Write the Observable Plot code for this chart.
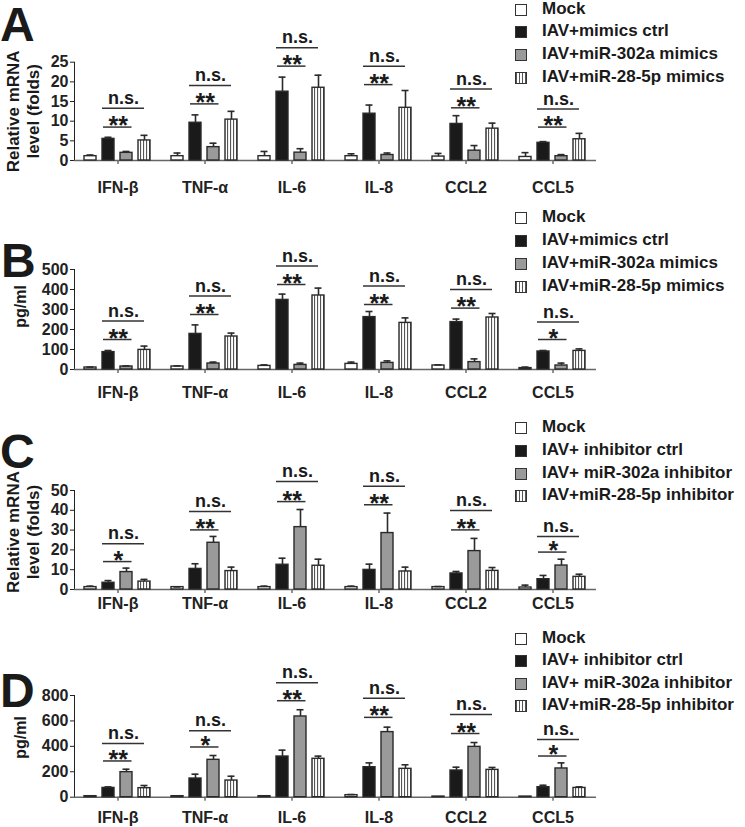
<!DOCTYPE html>
<html><head><meta charset="utf-8">
<script src="https://cdn.jsdelivr.net/npm/d3@7"></script>
<script src="https://cdn.jsdelivr.net/npm/@observablehq/plot@0.6"></script>
<style>
body{margin:0;background:#fff;}
#fig{position:relative;width:745px;height:827px;overflow:hidden;font-family:"Liberation Sans",Arial,sans-serif;font-weight:bold;color:#1a1a1a;}
.panel{position:absolute;left:0;}
.letter{position:absolute;font-size:48px;line-height:48px;}
.legend{position:absolute;left:515px;font-size:17px;z-index:2;}
.legend .txt{position:absolute;left:27px;white-space:nowrap;line-height:20px;}
.legend .sw{position:absolute;left:0;width:10px;height:10px;border:1.2px solid #333;box-sizing:content-box;}
</style>
</head><body>
<div id="fig"></div>
<svg width="0" height="0" style="position:absolute"><defs>
<pattern id="stripes" patternUnits="userSpaceOnUse" width="3" height="10"><rect width="3" height="10" fill="#fff"/><rect x="0" width="1.1" height="10" fill="#555"/></pattern>
</defs></svg>
<script>
// ---- categories ----
const genes = ["IFN-β", "TNF-α", "IL-6", "IL-8", "CCL2", "CCL5"];
const conds = ["Mock", "Ctrl", "miR-302a", "miR-28-5p"];
const condFills = ["#ffffff", "#1a1a1a", "#9a9a9a", "url(#stripes)"];
const legendMimics = ["Mock", "IAV+mimics ctrl", "IAV+miR-302a mimics", "IAV+miR-28-5p mimics"];
const legendInhib = ["Mock", "IAV+ inhibitor ctrl", "IAV+ miR-302a inhibitor", "IAV+miR-28-5p inhibitor"];

// ---- Panel A: Relative mRNA (mimics) ----
const aMock = [1.1, 1.1, 1.1, 1.1, 1.0, 0.9];
const aMockErr = [0.3, 0.8, 1.2, 0.6, 0.8, 1.1];
const aCtrl = [5.5, 9.6, 17.5, 11.9, 9.3, 4.5];
const aCtrlErr = [0.4, 2.0, 3.7, 2.2, 2.1, 0.3];
const a302 = [1.95, 3.4, 2.0, 1.4, 2.5, 1.1];
const a302Err = [0.35, 1.0, 1.0, 0.5, 1.3, 0.4];
const a28 = [5.1, 10.4, 18.5, 13.4, 8.1, 5.4];
const a28Err = [1.3, 2.1, 3.2, 4.4, 1.4, 1.5];
const aStar = ["**", "**", "**", "**", "**", "**"];
const aStarY = [8.5, 14.4, 24, 19.3, 13.4, 8.5];
const aNsY = [13.3, 19.1, 28.7, 24, 18.2, 13.1];
const aTicks = [0, 5, 10, 15, 20, 25];

// ---- Panel B: pg/ml (mimics) ----
const bMock = [10, 15, 18, 28, 20, 7];
const bMockErr = [2, 3, 5, 9, 3, 5];
const bCtrl = [87, 178, 348, 262, 237, 90];
const bCtrlErr = [8, 45, 29, 28, 15, 5];
const b302 = [15, 30, 23, 33, 37, 20];
const b302Err = [3, 7, 9, 10, 16, 12];
const b28 = [98, 165, 370, 233, 260, 93];
const b28Err = [19, 17, 37, 25, 20, 10];
const bStar = ["**", "**", "**", "**", "**", "*"];
const bStarY = [150, 275, 425, 325, 307, 150];
const bNsY = [242, 367, 517, 417, 400, 237];
const bTicks = [0, 100, 200, 300, 400, 500];

// ---- Panel C: Relative mRNA (inhibitor) ----
const cMock = [1.2, 1.2, 1.2, 1.2, 1.2, 1.0];
const cMockErr = [0.5, 0.1, 0.5, 0.5, 0.3, 1.2];
const cCtrl = [3.4, 10.4, 12.5, 9.9, 8.1, 5.2];
const cCtrlErr = [1.1, 2.6, 3.3, 2.9, 1.0, 1.9];
const c302 = [8.8, 23.6, 31.5, 28.5, 19.4, 12.1];
const c302Err = [2.0, 3.2, 8.9, 10.1, 6.4, 3.2];
const c28 = [4.0, 9.3, 12.0, 9.1, 9.4, 6.4];
const c28Err = [1.1, 2.0, 3.3, 2.2, 1.7, 1.3];
const cStar = ["*", "**", "**", "**", "**", "*"];
const cStarY = [14.1, 30.1, 44.4, 42.8, 30.1, 18.9];
const cNsY = [23.1, 39.4, 54.5, 52.2, 39.9, 26.8];
const cTicks = [0, 10, 20, 30, 40, 50];

// ---- Panel D: pg/ml (inhibitor) ----
const dMock = [8, 8, 8, 16, 5, 5];
const dMockErr = [0, 0, 0, 5, 0, 0];
const dCtrl = [73, 147, 320, 236, 210, 79];
const dCtrlErr = [8, 34, 50, 34, 26, 15];
const d302 = [197, 294, 635, 512, 396, 226];
const d302Err = [23, 34, 53, 39, 34, 44];
const d28 = [71, 131, 302, 223, 215, 73];
const d28Err = [21, 34, 21, 32, 19, 8];
const dStar = ["**", "*", "**", "**", "**", "*"];
const dStarY = [285, 395, 759, 628, 501, 324];
const dNsY = [422, 522, 901, 778, 651, 454];
const dTicks = [0, 200, 400, 600, 800];

const FONT = '"Liberation Sans", Arial, sans-serif';
const fig = document.getElementById("fig");

function makePanel(o) {
  const rows = [];
  genes.forEach((g, i) => conds.forEach((c, j) => rows.push({gene: g, cond: c, v: o.vals[j][i], e: o.errs[j][i]})));
  const withErr = rows.filter(d => d.e > 0);
  const ann = genes.map((g, i) => ({gene: g, star: o.star[i], sy: o.starY[i], ny: o.nsY[i]}));
  const ymax = o.ticks[o.ticks.length - 1];
  const svg = Plot.plot({
    width: 745, height: o.height,
    marginLeft: 72, marginRight: 148, marginTop: o.marginTop, marginBottom: o.marginBottom,
    style: {fontFamily: FONT, fontWeight: "bold", fontSize: "16px", color: "#222", background: "transparent", overflow: "visible"},
    fx: {domain: genes, padding: 0, label: null, axis: "bottom", tickSize: 4, tickPadding: o.labelPad},
    x: {domain: conds, axis: null, paddingInner: 0.316, paddingOuter: 0.46},
    y: {domain: [0, ymax], ticks: o.ticks, tickSize: 4, tickPadding: 2, line: true, label: null},
    color: {type: "ordinal", domain: conds, range: condFills},
    marks: [
      Plot.ruleY([0], {stroke: "#666", strokeWidth: 1.5}),
      Plot.barY(rows, {fx: "gene", x: "cond", y: "v", fill: "cond", stroke: "#2a2a2a", strokeWidth: 1.4}),
      Plot.ruleX(withErr, {fx: "gene", x: "cond", y1: "v", y2: d => d.v + d.e, stroke: "#2a2a2a", strokeWidth: 1.6}),
      Plot.tickY(withErr, {fx: "gene", x: "cond", y: d => d.v + d.e, stroke: "#2a2a2a", strokeWidth: 1.6, insetLeft: 2.5, insetRight: 2.5}),
      Plot.ruleY(ann, {fx: "gene", y: "sy", x1: () => "Ctrl", x2: () => "miR-302a", stroke: "#333", strokeWidth: 1.5, insetLeft: 1, insetRight: 0.5}),
      Plot.ruleY(ann, {fx: "gene", y: "ny", x1: () => "Ctrl", x2: () => "miR-28-5p", stroke: "#333", strokeWidth: 1.5, insetLeft: 0, insetRight: 6}),
      Plot.text(ann, {fx: "gene", x: () => "Ctrl", y: "sy", text: "star", dx: 9.8, dy: 7, lineAnchor: "bottom", fontSize: 25, fill: "#1a1a1a"}),
      Plot.text(ann, {fx: "gene", x: () => "miR-302a", y: "ny", text: () => "n.s.", dx: -3, dy: -4.4, lineAnchor: "bottom", fontSize: 18, fill: "#1a1a1a"}),
      Plot.text([o.ylabel], {facet: "super", frameAnchor: "left", textAnchor: "middle", rotate: -90, dx: o.labelDx, dy: o.labelDy, fontSize: o.labelSize, lineHeight: 1.15, fill: "#1a1a1a"})
    ]
  });
  svg.classList.add("panel");
  svg.style.top = o.top + "px";
  fig.appendChild(svg);
}

function addLetter(ch, top, left) {
  const d = document.createElement("div");
  d.className = "letter"; d.textContent = ch;
  d.style.top = top + "px"; d.style.left = left + "px";
  fig.appendChild(d);
}

function addLegend(labels, top, step) {
  const box = document.createElement("div");
  box.className = "legend"; box.style.top = top + "px";
  labels.forEach((lab, i) => {
    const sw = document.createElement("div");
    sw.className = "sw";
    sw.style.top = (i * step - 5) + "px";
    const f = condFills[i];
    if (f.startsWith("url")) sw.style.background = "repeating-linear-gradient(90deg,#555 0 1px,#fff 1px 3px)";
    else sw.style.background = f;
    const t = document.createElement("div");
    t.className = "txt"; t.textContent = lab;
    t.style.top = (i * step - 10) + "px";
    box.appendChild(sw); box.appendChild(t);
  });
  fig.appendChild(box);
}

makePanel({vals: [aMock, aCtrl, a302, a28], errs: [aMockErr, aCtrlErr, a302Err, a28Err], star: aStar, starY: aStarY, nsY: aNsY, ticks: aTicks,
  top: 0, height: 210, marginTop: 61.7, marginBottom: 50, labelPad: 17, ylabel: "Relative mRNA\nlevel (folds)", labelDx: -52, labelDy: 0, labelSize: 17});
makePanel({vals: [bMock, bCtrl, b302, b28], errs: [bMockErr, bCtrlErr, b302Err, b28Err], star: bStar, starY: bStarY, nsY: bNsY, ticks: bTicks,
  top: 200, height: 210, marginTop: 69, marginBottom: 41, labelPad: 13, ylabel: "pg/ml", labelDx: -54, labelDy: -13, labelSize: 16});
makePanel({vals: [cMock, cCtrl, c302, c28], errs: [cMockErr, cCtrlErr, c302Err, c28Err], star: cStar, starY: cStarY, nsY: cNsY, ticks: cTicks,
  top: 410, height: 210, marginTop: 80, marginBottom: 31, labelPad: 4, ylabel: "Relative mRNA\nlevel (folds)", labelDx: -52, labelDy: -8, labelSize: 17});
makePanel({vals: [dMock, dCtrl, d302, d28], errs: [dMockErr, dCtrlErr, d302Err, d28Err], star: dStar, starY: dStarY, nsY: dNsY, ticks: dTicks,
  top: 620, height: 207, marginTop: 75, marginBottom: 30.3, labelPad: 10, ylabel: "pg/ml", labelDx: -54, labelDy: -9, labelSize: 16});

addLetter("A", 0.5, 0);
addLetter("B", 237, 1);
addLetter("C", 427.5, 0);
addLetter("D", 667, 0);

addLegend(legendMimics, 8.5, 22.8);
addLegend(legendMimics, 217, 23);
addLegend(legendInhib, 427, 22.8);
addLegend(legendInhib, 637.5, 22.5);
</script>
</body></html>
